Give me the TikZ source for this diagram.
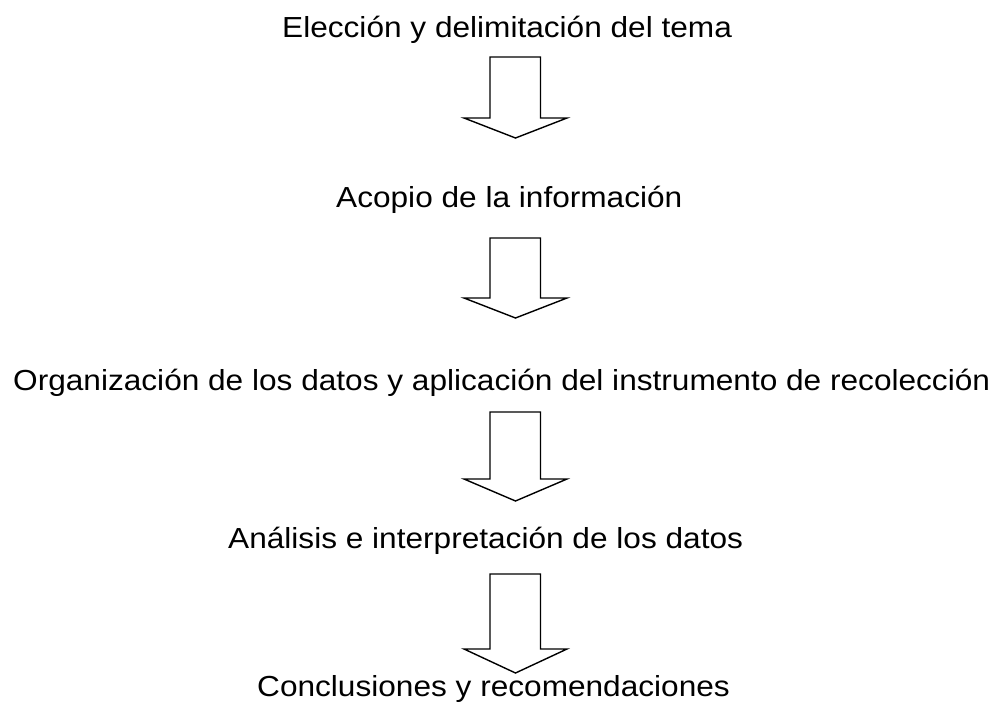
\documentclass[tikz,border=0pt]{standalone}
\usepackage{fontspec}
\setmainfont{Liberation Sans}
\newcommand{\wide}[1]{\scalebox{1.09}[1]{#1}}
\begin{document}
\begin{tikzpicture}[x=1pt,y=-1pt,
  lbl/.style={anchor=base west,inner sep=0pt,font=\fontsize{29}{34}\selectfont},
  blockarrow/.style={draw=black,line width=1.4pt,fill=white,line join=miter}]
\useasboundingbox (0,0) rectangle (1005,705);
\node[lbl] (t1) at (282,37) {\wide{Elección y delimitación del tema}};
\node[lbl] (t2) at (336,207) {\wide{Acopio de la información}};
\node[lbl] (t3) at (13,390) {\wide{Organización de los datos y aplicación del instrumento de recolección}};
\node[lbl] (t4) at (228,548) {\wide{Análisis e interpretación de los datos}};
\node[lbl] (t5) at (257,696) {\wide{Conclusiones y recomendaciones}};
% block arrows: top, head base, tip
\foreach \top/\base/\tip in {57/118/138, 238/298/318, 412/479/501, 574/649/673}{
  \draw[blockarrow] (490,\top) -- (540.5,\top) -- (540.5,\base) -- (567,\base)
     -- (515.5,\tip) -- (464,\base) -- (490,\base) -- cycle;
}
\end{tikzpicture}
\end{document}
